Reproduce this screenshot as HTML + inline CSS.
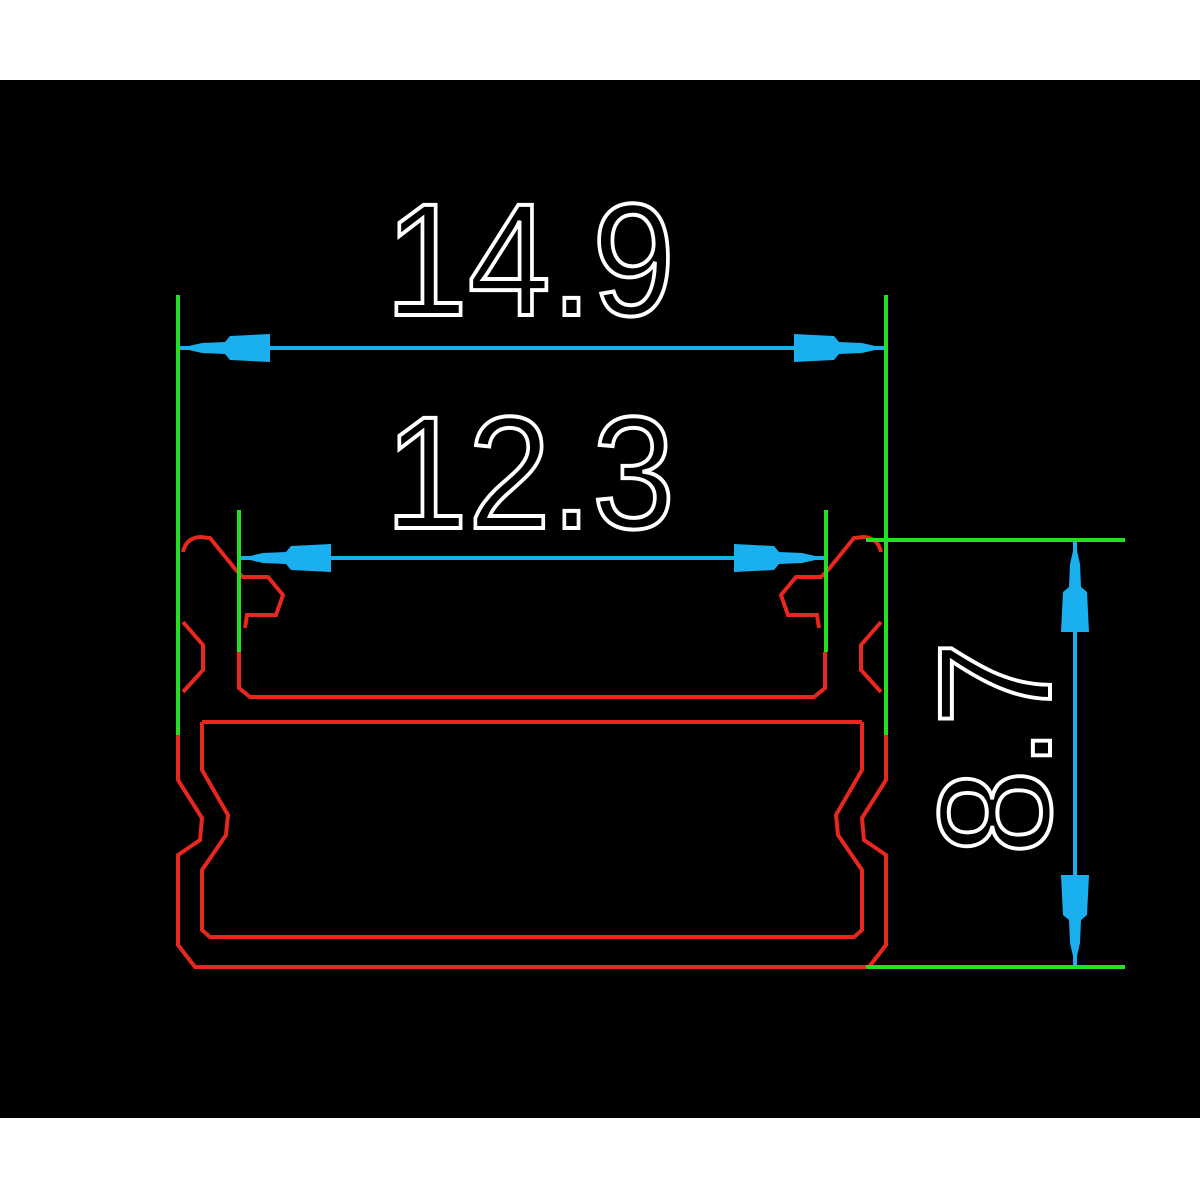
<!DOCTYPE html>
<html><head><style>html,body{margin:0;padding:0;background:#fff;}svg{display:block}</style></head>
<body>
<svg width="1200" height="1200" viewBox="0 0 1200 1200" xmlns="http://www.w3.org/2000/svg">
<rect x="0" y="0" width="1200" height="1200" fill="#fff"/>
<rect x="0" y="80" width="1200" height="1038" fill="#000"/>
<defs>
<g id="half" fill="none" stroke="#e8281e" stroke-width="4">
  <!-- top clip profile -->
  <path d="M183,552 Q186,538 200,537 L210,538 L236,570 L243,577 L268,577 L283,595 L276,615 L247,615 L245,628"/>
  <path d="M183,622 L203,645 L203,670 L183,692"/>
  <path d="M239,652 L239,688 L250,697 L532,697"/>
  <!-- outer body -->
  <path d="M178,735 L178,780 L202,818 L200,840 L178,855 L178,945 L195,967 L532,967"/>
  <path d="M202,722 L532,722 M202,722 L202,770 L228,815 L226,835 L202,870 L202,930 L210,937 L532,937"/>
</g>
<g id="arrowL" fill="#1ab0f0">
  <polygon points="0,0 22,-5 45,-6 50,-12 90,-14 90,14 50,12 45,6 22,5"/>
</g>
</defs>
<use href="#half"/>
<use href="#half" transform="translate(1064,0) scale(-1,1)"/>
<!-- green extension lines -->
<g stroke="#22e022" stroke-width="4">
  <line x1="178" y1="295" x2="178" y2="735"/>
  <line x1="886" y1="295" x2="886" y2="735"/>
  <line x1="239" y1="510" x2="239" y2="652"/>
  <line x1="826" y1="510" x2="826" y2="652"/>
  <line x1="866" y1="540" x2="1125" y2="540"/>
  <line x1="866" y1="967" x2="1125" y2="967"/>
</g>
<!-- cyan dimension lines -->
<g stroke="#1ab0f0" stroke-width="4">
  <line x1="180" y1="348" x2="884" y2="348"/>
  <line x1="241" y1="558" x2="824" y2="558"/>
  <line x1="1075" y1="542" x2="1075" y2="965"/>
</g>
<use href="#arrowL" transform="translate(180,348)"/>
<use href="#arrowL" transform="translate(884,348) scale(-1,1)"/>
<use href="#arrowL" transform="translate(241,558)"/>
<use href="#arrowL" transform="translate(824,558) scale(-1,1)"/>
<use href="#arrowL" transform="translate(1075,542) rotate(90)"/>
<use href="#arrowL" transform="translate(1075,965) rotate(-90)"/>
<!-- texts -->
<g fill="none" stroke="#fff" stroke-width="4" font-family="Liberation Sans, sans-serif" font-size="160">
  <text x="530" y="315" text-anchor="middle" textLength="290" lengthAdjust="spacingAndGlyphs">14.9</text>
  <text x="530" y="528" text-anchor="middle" textLength="290" lengthAdjust="spacingAndGlyphs">12.3</text>
  <text x="0" y="0" text-anchor="middle" textLength="215" lengthAdjust="spacingAndGlyphs" transform="translate(1050,748) rotate(-90)">8.7</text>
</g>
</svg>
</body></html>
